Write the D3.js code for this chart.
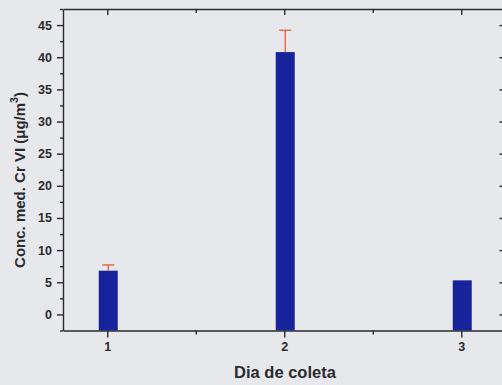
<!DOCTYPE html>
<html>
<head>
<meta charset="utf-8">
<script src="https://cdn.jsdelivr.net/npm/d3@7"></script>
<style>
  html, body { margin: 0; padding: 0; background: #e7e8ec; }
  svg { display: block; }
  text { font-family: Arial, "Liberation Sans", sans-serif; fill: #2a2a2e; }
</style>
</head>
<body>
<svg id="chart" width="502" height="385"></svg>
<script>
// Collection days and mean Cr VI concentration with its upper error
const days = [1, 2, 3];
const dayLabels = ["1", "2", "3"];
const meanConc = [6.8, 40.8, 5.3];
const concError = [0.9, 3.4, 0];
const yTicks = [0, 5, 10, 15, 20, 25, 30, 35, 40, 45];
const yMinorTicks = [-2.5, 2.5, 7.5, 12.5, 17.5, 22.5, 27.5, 32.5, 37.5, 42.5, 47.5];
const xMinorTicks = [1.5, 2.5];

const svg = d3.select("#chart");
const plotLeft = 63, plotRight = 505.5, plotTop = 9, plotBottom = 330.5;

const x = d3.scaleLinear().domain([0.75, 3.25]).range([plotLeft, plotRight]);
const y = d3.scaleLinear().domain([-2.5, 47.5]).range([plotBottom, plotTop]);

const axisColor = "#2a2a30";
const barWidth = 19;

// Bars rise from the bottom of the frame
svg.append("g").selectAll("rect")
  .data(days)
  .join("rect")
  .attr("x", (d) => x(d) - barWidth / 2 + 1)
  .attr("width", barWidth)
  .attr("y", (d, i) => y(meanConc[i]))
  .attr("height", (d, i) => y.range()[0] - y(meanConc[i]))
  .attr("fill", "#17239a");

// Upper error bars
const errG = svg.append("g").attr("stroke", "#ec5a3c").attr("stroke-width", 1.3);
days.forEach((d, i) => {
  if (concError[i] <= 0) return;
  const cx = x(d) + 1;
  errG.append("line")
    .attr("x1", cx).attr("x2", cx)
    .attr("y1", y(meanConc[i])).attr("y2", y(meanConc[i] + concError[i]));
  errG.append("line")
    .attr("x1", cx - 6).attr("x2", cx + 6)
    .attr("y1", y(meanConc[i] + concError[i])).attr("y2", y(meanConc[i] + concError[i]));
});

function styleAxis(g) {
  g.selectAll("path, line").attr("stroke", axisColor).attr("stroke-width", 1.4);
}

// Left axis: major ticks with labels, minor ticks between
const leftAxis = svg.append("g").attr("transform", `translate(${plotLeft},0)`)
  .call(d3.axisLeft(y).tickValues(yTicks).tickSize(6).tickSizeOuter(0).tickPadding(5));
leftAxis.selectAll("text").attr("font-size", 12.5).attr("font-weight", "bold");
leftAxis.append("g").call(d3.axisLeft(y).tickValues(yMinorTicks).tickSize(3).tickSizeOuter(0).tickFormat(""))
  .select(".domain").remove();
styleAxis(leftAxis);

// Right axis: ticks point inward
const rightAxis = svg.append("g").attr("transform", `translate(${plotRight},0)`)
  .call(d3.axisLeft(y).tickValues(yTicks).tickSize(6).tickSizeOuter(0).tickFormat(""));
rightAxis.append("g").call(d3.axisLeft(y).tickValues(yMinorTicks).tickSize(3).tickSizeOuter(0).tickFormat(""))
  .select(".domain").remove();
styleAxis(rightAxis);

// Bottom axis
const bottomAxis = svg.append("g").attr("transform", `translate(0,${plotBottom})`)
  .call(d3.axisBottom(x).tickValues(days).tickFormat((d, i) => dayLabels[i]).tickSize(7).tickSizeOuter(0).tickPadding(5));
bottomAxis.selectAll("text").attr("font-size", 12.5).attr("font-weight", "bold");
bottomAxis.append("g").call(d3.axisBottom(x).tickValues(xMinorTicks).tickSize(4).tickSizeOuter(0).tickFormat(""))
  .select(".domain").remove();
styleAxis(bottomAxis);

// Top axis: ticks point inward
const topAxis = svg.append("g").attr("transform", `translate(0,${plotTop})`)
  .call(d3.axisBottom(x).tickValues(days).tickSize(6).tickSizeOuter(0).tickFormat(""));
topAxis.append("g").call(d3.axisBottom(x).tickValues(xMinorTicks).tickSize(4).tickSizeOuter(0).tickFormat(""))
  .select(".domain").remove();
styleAxis(topAxis);

// Axis titles
svg.append("text")
  .attr("x", 285).attr("y", 378)
  .attr("text-anchor", "middle")
  .attr("font-size", 16.5).attr("font-weight", "bold")
  .text("Dia de coleta");

const yTitle = svg.append("text")
  .attr("transform", "translate(25,180) rotate(-90)")
  .attr("text-anchor", "middle")
  .attr("font-size", 15).attr("font-weight", "bold");
yTitle.append("tspan").text("Conc. med. Cr VI (\u03BCg/m");
yTitle.append("tspan").attr("font-size", 10.5).attr("dy", -7).text("3");
yTitle.append("tspan").attr("dy", 7).text(")");
</script>
</body>
</html>
